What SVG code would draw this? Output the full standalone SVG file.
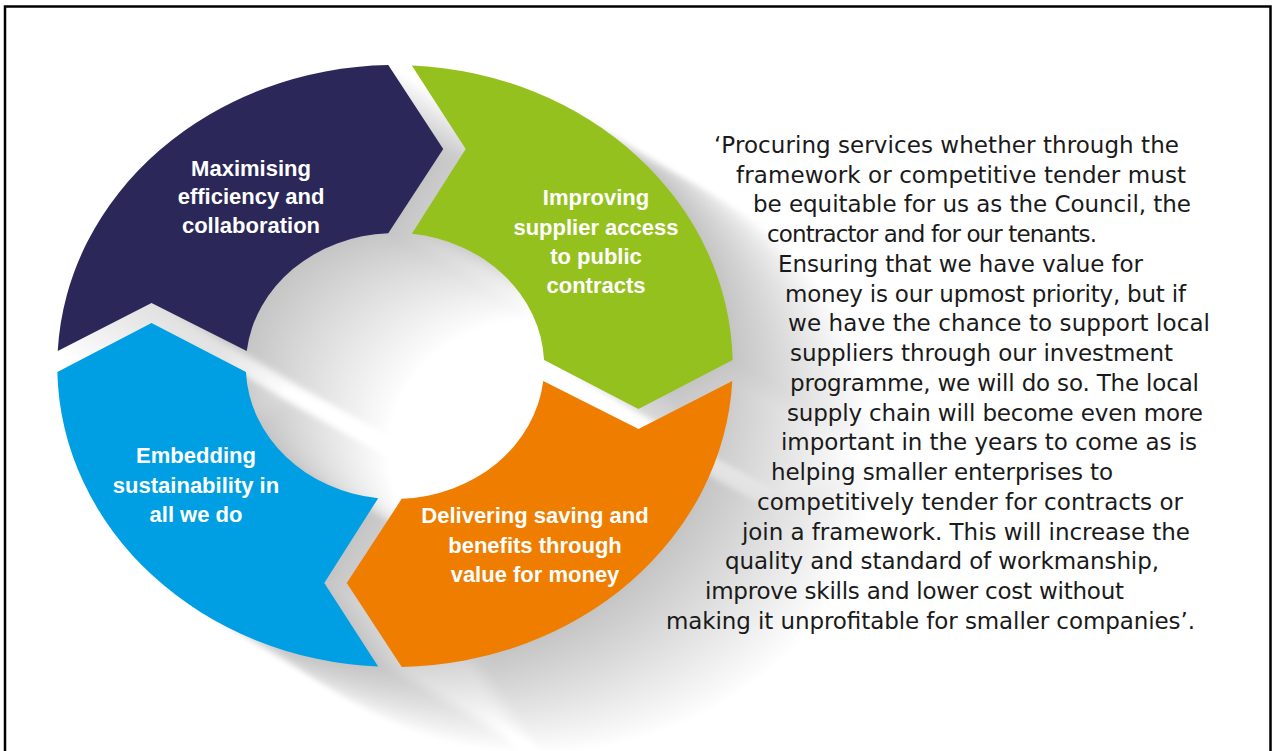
<svg xmlns="http://www.w3.org/2000/svg" xmlns:xlink="http://www.w3.org/1999/xlink" width="1277" height="751" viewBox="0 0 1277 751">
  <defs>
    <style>
      .lbl { font-family: "Liberation Sans", Arial, sans-serif; font-weight: bold; font-size: 22px; fill: #ffffff; text-anchor: middle; }
      .quote { font-family: "DejaVu Sans", "Liberation Sans", sans-serif; font-size: 23px; fill: #1a1a1a; }
      .sh use { fill: #4a4a62; fill-opacity: 0.0105; }
    </style>
    <filter id="blur" x="-10%" y="-10%" width="130%" height="130%">
      <feGaussianBlur stdDeviation="2.5"/>
    </filter>
    <path id="sil" transform="translate(395,366) scale(1.122,1)" d="M -300.6,-15 A 301 301 0 0 1 -6,-300.94 L 43,-217 L -6,-132.86 A 133 133 0 0 0 -132.15,-15 L -217,-63 Z M 15,-300.6 A 301 301 0 0 1 300.94,-6 L 217,43 L 132.86,-6 A 133 133 0 0 0 15,-132.15 L 63,-217 Z M 300.6,15 A 301 301 0 0 1 6,300.94 L -43,217 L 6,132.86 A 133 133 0 0 0 132.15,15 L 217,63 Z M -15,300.6 A 301 301 0 0 1 -300.94,6 L -217,-43 L -132.86,6 A 133 133 0 0 0 -15,132.15 L -63,217 Z"/>
  </defs>

  <rect x="0" y="0" width="1277" height="751" fill="#ffffff"/>

  <g id="shadow" class="sh" filter="url(#blur)">
    <use xlink:href="#sil" x="2" y="1.2"/>
    <use xlink:href="#sil" x="5" y="3"/>
    <use xlink:href="#sil" x="10" y="6"/>
    <use xlink:href="#sil" x="15" y="9"/>
    <use xlink:href="#sil" x="20" y="12"/>
    <use xlink:href="#sil" x="25" y="15"/>
    <use xlink:href="#sil" x="30" y="18"/>
    <use xlink:href="#sil" x="35" y="21"/>
    <use xlink:href="#sil" x="40" y="24"/>
    <use xlink:href="#sil" x="45" y="27"/>
    <use xlink:href="#sil" x="50" y="30"/>
    <use xlink:href="#sil" x="55" y="33"/>
    <use xlink:href="#sil" x="60" y="36"/>
    <use xlink:href="#sil" x="65" y="39"/>
    <use xlink:href="#sil" x="70" y="42"/>
    <use xlink:href="#sil" x="75" y="45"/>
    <use xlink:href="#sil" x="80" y="48"/>
    <use xlink:href="#sil" x="85" y="51"/>
    <use xlink:href="#sil" x="90" y="54"/>
    <use xlink:href="#sil" x="95" y="57"/>
    <use xlink:href="#sil" x="100" y="60"/>
    <use xlink:href="#sil" x="105" y="63"/>
    <use xlink:href="#sil" x="110" y="66"/>
    <use xlink:href="#sil" x="115" y="69"/>
    <use xlink:href="#sil" x="120" y="72"/>
    <use xlink:href="#sil" x="125" y="75"/>
    <use xlink:href="#sil" x="130" y="78"/>
    <use xlink:href="#sil" x="135" y="81"/>
    <use xlink:href="#sil" x="140" y="84"/>
  </g>

  <g id="connectors"></g>

  <g id="node-maximising">
    <path fill="#2b2859" transform="translate(395,366) scale(1.122,1)" d="M -300.6,-15 A 301 301 0 0 1 -6,-300.94 L 43,-217 L -6,-132.86 A 133 133 0 0 0 -132.15,-15 L -217,-63 Z"/>
    <text class="lbl" x="251" y="176">Maximising</text>
    <text class="lbl" x="251" y="204">efficiency and</text>
    <text class="lbl" x="251" y="233">collaboration</text>
  </g>

  <g id="node-improving">
    <path fill="#95c11f" transform="translate(395,366) scale(1.122,1)" d="M 15,-300.6 A 301 301 0 0 1 300.94,-6 L 217,43 L 132.86,-6 A 133 133 0 0 0 15,-132.15 L 63,-217 Z"/>
    <text class="lbl" x="596" y="205">Improving</text>
    <text class="lbl" x="596" y="235">supplier access</text>
    <text class="lbl" x="596" y="264">to public</text>
    <text class="lbl" x="596" y="293">contracts</text>
  </g>

  <g id="node-delivering">
    <path fill="#ef7d00" transform="translate(395,366) scale(1.122,1)" d="M 300.6,15 A 301 301 0 0 1 6,300.94 L -43,217 L 6,132.86 A 133 133 0 0 0 132.15,15 L 217,63 Z"/>
    <text class="lbl" x="535" y="523">Delivering saving and</text>
    <text class="lbl" x="535" y="553">benefits through</text>
    <text class="lbl" x="535" y="582">value for money</text>
  </g>

  <g id="node-embedding">
    <path fill="#009fe3" transform="translate(395,366) scale(1.122,1)" d="M -15,300.6 A 301 301 0 0 1 -300.94,6 L -217,-43 L -132.86,6 A 133 133 0 0 0 -15,132.15 L -63,217 Z"/>
    <text class="lbl" x="196" y="463">Embedding</text>
    <text class="lbl" x="196" y="493">sustainability in</text>
    <text class="lbl" x="196" y="522">all we do</text>
  </g>

  <g id="quote">
    <text class="quote" x="714" y="153" textLength="465">‘Procuring services whether through the</text>
    <text class="quote" x="736" y="183" textLength="450">framework or competitive tender must</text>
    <text class="quote" x="753" y="212" textLength="438">be equitable for us as the Council, the</text>
    <text class="quote" x="767" y="242" textLength="330">contractor and for our tenants.</text>
    <text class="quote" x="778" y="272" textLength="365">Ensuring that we have value for</text>
    <text class="quote" x="785" y="302" textLength="401">money is our upmost priority, but if</text>
    <text class="quote" x="788" y="331" textLength="422">we have the chance to support local</text>
    <text class="quote" x="790" y="361" textLength="383">suppliers through our investment</text>
    <text class="quote" x="790" y="391" textLength="409">programme, we will do so. The local</text>
    <text class="quote" x="787" y="421" textLength="416">supply chain will become even more</text>
    <text class="quote" x="781" y="450" textLength="416">important in the years to come as is</text>
    <text class="quote" x="771" y="480" textLength="342">helping smaller enterprises to</text>
    <text class="quote" x="757" y="510" textLength="426">competitively tender for contracts or</text>
    <text class="quote" x="742" y="540" textLength="448">join a framework. This will increase the</text>
    <text class="quote" x="725" y="569" textLength="434">quality and standard of workmanship,</text>
    <text class="quote" x="705" y="599" textLength="419">improve skills and lower cost without</text>
    <text class="quote" x="666" y="629" textLength="529">making it unprofitable for smaller companies’.</text>
  </g>

  <rect x="5" y="6.5" width="1265.5" height="760" fill="none" stroke="#000000" stroke-width="2.5"/>
</svg>
